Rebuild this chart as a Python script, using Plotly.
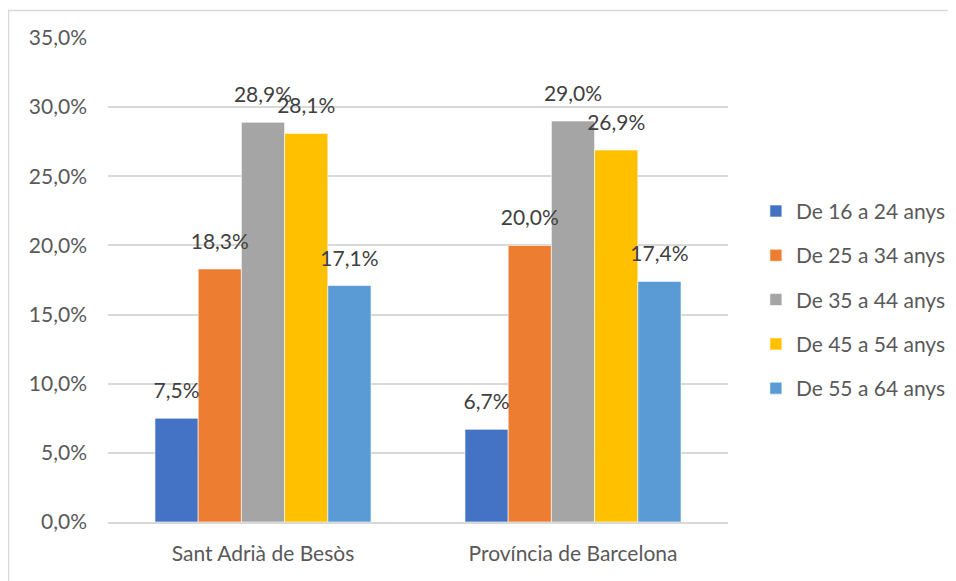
import plotly.graph_objects as go

categories = ["Sant Adrià de Besòs", "Província de Barcelona"]
series_names = ["De 16 a 24 anys", "De 25 a 34 anys", "De 35 a 44 anys", "De 45 a 54 anys", "De 55 a 64 anys"]
v_16_24 = [0.075, 0.067]
v_25_34 = [0.183, 0.200]
v_35_44 = [0.289, 0.290]
v_45_54 = [0.281, 0.269]
v_55_64 = [0.171, 0.174]
series_values = [v_16_24, v_25_34, v_35_44, v_45_54, v_55_64]
colors = ["#4472C4", "#ED7D31", "#A5A5A5", "#FFC000", "#5B9BD5"]
y_ticks = [0, 0.05, 0.10, 0.15, 0.20, 0.25, 0.30, 0.35]

FONT = "Lato, 'Open Sans', sans-serif"
FS = 21
GAP = 0.303

fig = go.Figure()
for i, (name, vals, col) in enumerate(zip(series_names, series_values, colors)):
    fig.add_trace(go.Bar(
        x=categories, y=vals, name=name, offsetgroup=str(i),
        marker=dict(color=col, line=dict(color="rgba(255,255,255,0.6)", width=1)),
        legendgroup=name, hoverinfo="skip",
    ))
for i, (name, vals) in enumerate(zip(series_names, series_values)):
    fig.add_trace(go.Scatter(
        x=categories, y=vals, mode="markers+text", offsetgroup=str(i),
        marker=dict(size=22, opacity=0), texttemplate="%{y:.1%}",
        textposition="top center",
        textfont=dict(size=FS, color="#404040", family=FONT),
        cliponaxis=False, showlegend=False, name=name,
    ))

L, T, W, H = 100, 30, 620, 484
fig.update_layout(
    width=956, height=581,
    margin=dict(l=L, r=956 - L - W, t=T, b=581 - T - H),
    paper_bgcolor="white", plot_bgcolor="white",
    separators=",.",
    barmode="group", bargap=GAP, bargroupgap=0,
    scattermode="group", scattergap=GAP,
    font=dict(family=FONT, size=FS, color="#595959"),
    legend=dict(x=1.045, xanchor="left", y=0.459, yanchor="middle",
                font=dict(size=FS, color="#595959"),
                tracegroupgap=14, itemwidth=30),
    showlegend=True,
    xaxis=dict(showgrid=False, showline=True, linecolor="#D9D9D9", linewidth=1.5,
               ticks="", tickfont=dict(size=FS, color="#595959"), ticklabelstandoff=12),
    yaxis=dict(range=[0, 0.35], tickvals=y_ticks, tickformat=".1%",
               showgrid=True, gridcolor="#D9D9D9", gridwidth=1.5,
               zeroline=False, showline=False, ticks="",
               tickfont=dict(size=FS, color="#595959"), ticklabelstandoff=20),
    shapes=[dict(type="rect", xref="paper", yref="paper",
                 x0=(0.5 - L) / W, x1=(947.5 - L) / W,
                 y0=-0.3, y1=(T + H - 2.5) / H,
                 line=dict(color="#D9D9D9", width=1.5), fillcolor="rgba(0,0,0,0)",
                 layer="below")],
)

fig.write_html("out.html")
